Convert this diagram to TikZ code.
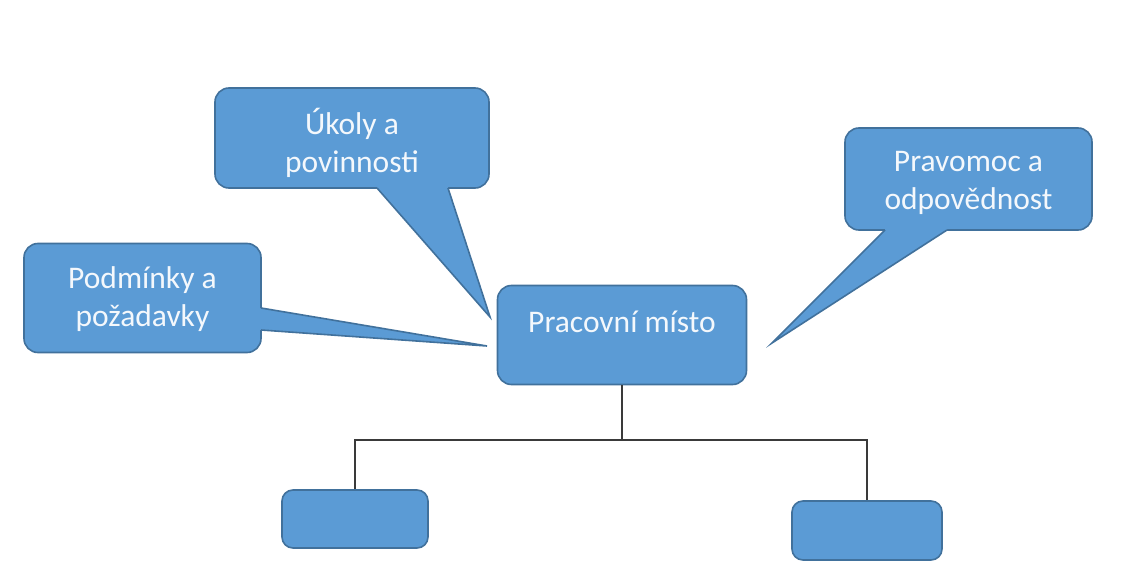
\documentclass[tikz,border=0pt]{standalone}
\usepackage{fontspec}
\setmainfont{Carlito}
\definecolor{boxfill}{HTML}{5B9BD5}
\definecolor{boxline}{HTML}{41719C}
\definecolor{connc}{HTML}{3A3A3A}
\definecolor{txtc}{HTML}{F4F8FC}
\begin{document}
\begin{tikzpicture}[x=1pt,y=-1pt,
  box/.style={draw=boxline, line width=1.6pt, fill=boxfill, rounded corners=14pt, inner sep=0pt},
  txt/.style={text=txtc, font=\fontsize{31.5}{38}\selectfont, align=center, inner sep=0pt},
  tailfill/.style={fill=boxfill},
  tailline/.style={draw=boxline, line width=1.6pt},
  conn/.style={draw=connc, line width=1.5pt}]
\useasboundingbox[fill=white] (0,0) rectangle (1132,578);

% boxes
\node[box, minimum width=274pt, minimum height=100pt] (uk) at (352,138) {};
\node[box, minimum width=237pt, minimum height=109pt] (pod) at (142.5,298) {};
\node[box, minimum width=247pt, minimum height=102pt] (pra) at (968.5,179) {};
\node[box, minimum width=249pt, minimum height=99pt] (pm) at (622,335) {};
\node[box, rounded corners=11pt, minimum width=146pt, minimum height=58pt] (b1) at (355,519) {};
\node[box, rounded corners=11pt, minimum width=150pt, minimum height=59pt] (b2) at (867,530.5) {};

% callout tips
\coordinate (ukTip) at (490,317);
\coordinate (podTip) at (487,346);
\coordinate (praTip) at (772,343);

% tail of Ukoly
\fill[tailfill] (377,184) -- (377,188) -- (ukTip) -- (448,188) -- (448,184) -- cycle;
\draw[tailline] (377,188) -- (ukTip) -- (448,188);
% tail of Podminky
\fill[tailfill] (257,308) -- (261,308) -- (podTip) -- (261,330) -- (257,330) -- cycle;
\draw[tailline] (261,308) -- (podTip) -- (261,330);
% tail of Pravomoc
\fill[tailfill] (885,226) -- (885,230) -- (praTip) -- (947,230) -- (947,226) -- cycle;
\draw[tailline] (885,230) -- (praTip) -- (947,230);

% texts
\node[txt] (ukt) at (352,143) {Úkoly a\\povinnosti};
\node[txt] (podt) at (142.5,299) {Podmínky a\\požadavky};
\node[txt] (prat) at (968.5,183) {Pravomoc a\\odpovědnost};
\node[txt] (pmt) at (622,322) {Pracovní místo};

% connectors
\coordinate (bus) at (622,440);
\draw[conn] (pm.south) -- (bus);
\draw[conn] (b1.north) |- (bus) -| (b2.north);
\end{tikzpicture}
\end{document}
